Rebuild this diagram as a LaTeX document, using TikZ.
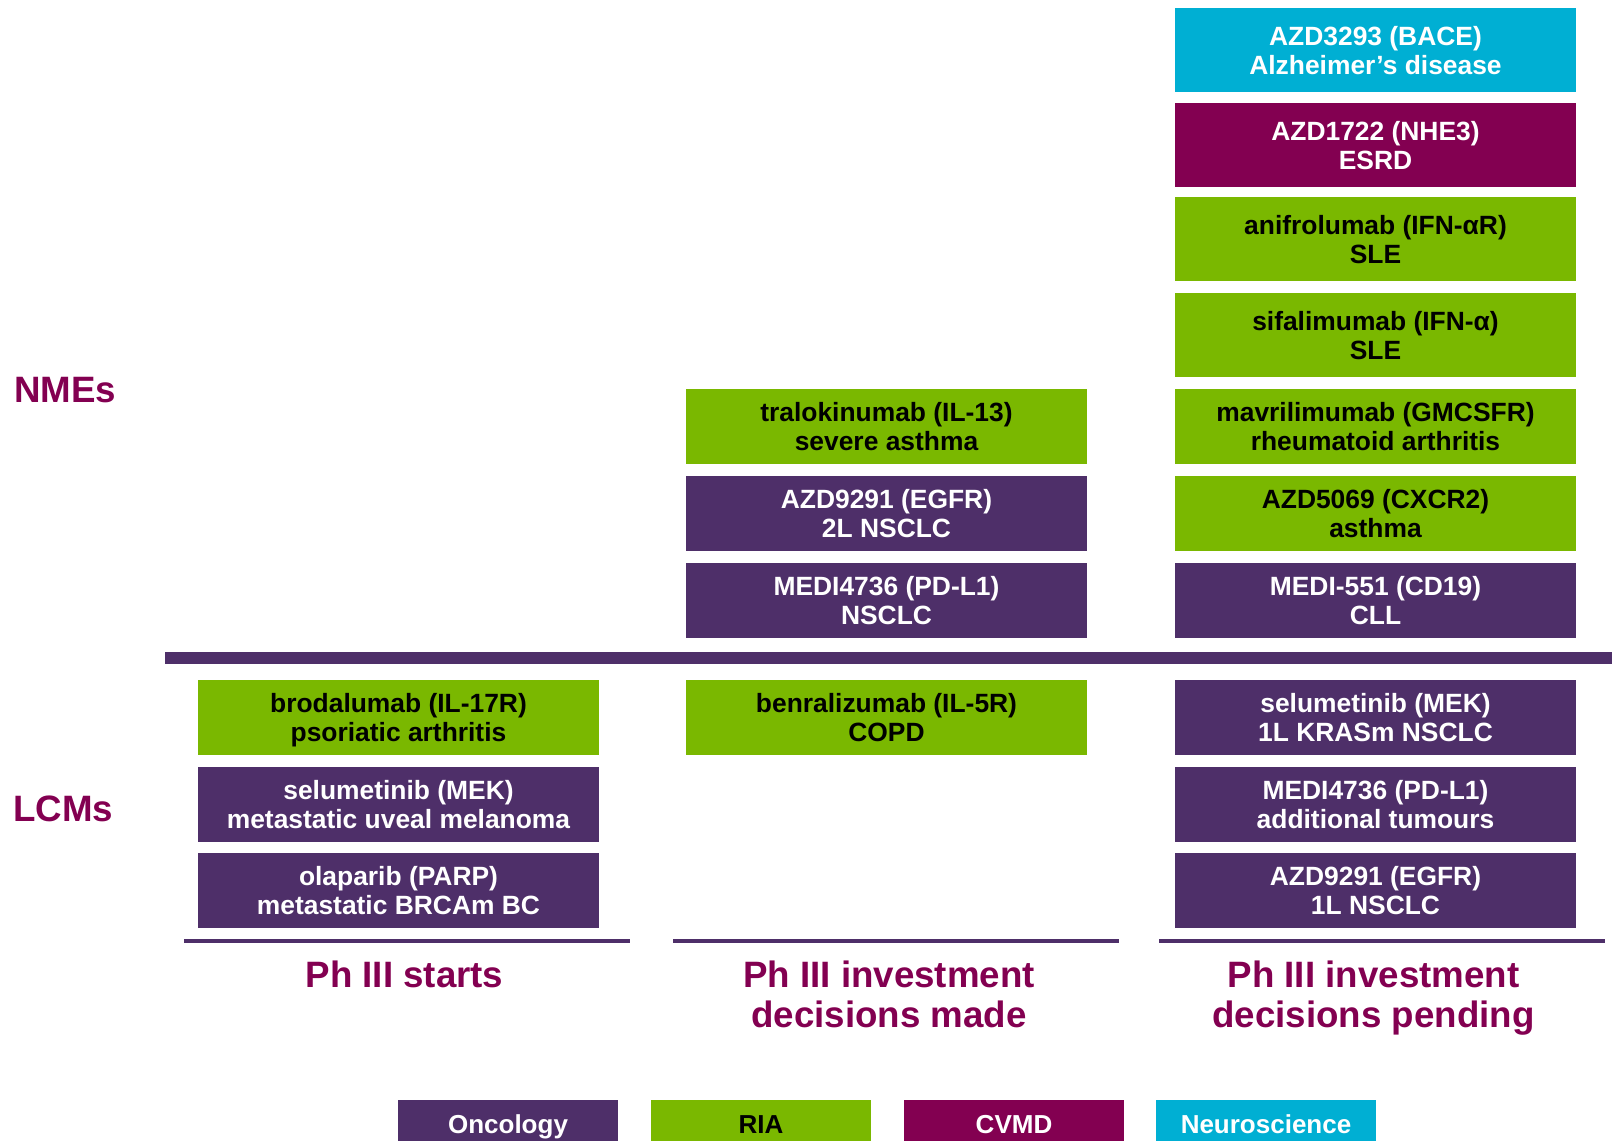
\documentclass[tikz,border=0pt]{standalone}
\usepackage{fontspec}
\setmainfont{Liberation Sans}
\definecolor{onco}{RGB}{78,47,105}
\definecolor{ria}{RGB}{122,184,0}
\definecolor{cvmd}{RGB}{131,0,81}
\definecolor{neuro}{RGB}{0,175,211}
\begin{document}
\begin{tikzpicture}[x=0.5pt,y=-0.5pt]
\useasboundingbox (0,0) rectangle (1612,1141);
\tikzstyle{box}=[minimum width=200.5pt,minimum height=37.5pt,inner sep=0pt,text depth=0pt,align=center,font=\fontsize{13.2}{14.5}\selectfont\bfseries]
\tikzstyle{tall}=[minimum height=42pt]
\tikzstyle{onc}=[box,fill=onco,text=white]
\tikzstyle{ri}=[box,fill=ria,text=black]
\tikzstyle{cv}=[box,fill=cvmd,text=white]
\tikzstyle{neu}=[box,fill=neuro,text=white]
\tikzstyle{head}=[inner sep=0pt,align=center,anchor=base,text=cvmd,font=\fontsize{18.35}{20}\selectfont\bfseries]
\tikzstyle{leg}=[minimum width=110pt,minimum height=20.5pt,inner sep=0pt,text height=12.5pt,text depth=0pt,font=\fontsize{13}{14}\selectfont\bfseries]
% row labels
\node[head,anchor=base west] (nme) at (14,402) {NMEs};
\node[head,anchor=base west] (lcm) at (13,821) {LCMs};
% NMEs, decisions pending
\node[neu,tall] (bace) at (1375.5,50) {AZD3293 (BACE)\\Alzheimer’s disease};
\node[cv,tall] (nhe) at (1375.5,145) {AZD1722 (NHE3)\\ESRD};
\node[ri,tall] (anif) at (1375.5,239) {anifrolumab (IFN-αR)\\SLE};
\node[ri,tall] (sifa) at (1375.5,335) {sifalimumab (IFN-α)\\SLE};
\node[ri] (mavr) at (1375.5,426.5) {mavrilimumab (GMCSFR)\\rheumatoid arthritis};
\node[ri] (cxcr) at (1375.5,513) {AZD5069 (CXCR2)\\asthma};
\node[onc] (cd19) at (1375.5,600.5) {MEDI-551 (CD19)\\CLL};
% NMEs, decisions made
\node[ri] (tral) at (886.5,426.5) {tralokinumab (IL-13)\\severe asthma};
\node[onc] (egfr) at (886.5,513) {AZD9291 (EGFR)\\2L NSCLC};
\node[onc] (pdl) at (886.5,600.5) {MEDI4736 (PD-L1)\\NSCLC};
% NME / LCM divide
\draw[onco,line width=6pt] (165,658) -- (1612,658);
% LCMs
\node[ri] (brod) at (398.5,717.5) {brodalumab (IL-17R)\\psoriatic arthritis};
\node[onc] (mek) at (398.5,804) {selumetinib (MEK)\\metastatic uveal melanoma};
\node[onc] (parp) at (398.5,890) {olaparib (PARP)\\metastatic BRCAm BC};
\node[ri] (benr) at (886.5,717.5) {benralizumab (IL-5R)\\COPD};
\node[onc] (kras) at (1375.5,717.5) {selumetinib (MEK)\\1L KRASm NSCLC};
\node[onc] (pdl2) at (1375.5,804) {MEDI4736 (PD-L1)\\additional tumours};
\node[onc] (egfr2) at (1375.5,890) {AZD9291 (EGFR)\\1L NSCLC};
% column heads
\draw[onco,line width=2pt] (184,941) -- (630,941)
  (673,941) -- (1119,941)
  (1159,941) -- (1605,941);
\node[head] (start) at (404.5,987) {Ph III starts};
\node[head] (made) at (889,1027) {Ph III investment\\decisions made};
\node[head] (pend) at (1373.5,1027) {Ph III investment\\decisions pending};
% legend
\node[leg,fill=onco,text=white] (lonc) at (508,1120.5) {Oncology};
\node[leg,fill=ria,text=black] (lria) at (761,1120.5) {RIA};
\node[leg,fill=cvmd,text=white] (lcv) at (1014,1120.5) {CVMD};
\node[leg,fill=neuro,text=white] (lneu) at (1266,1120.5) {Neuroscience};
\end{tikzpicture}
\end{document}
